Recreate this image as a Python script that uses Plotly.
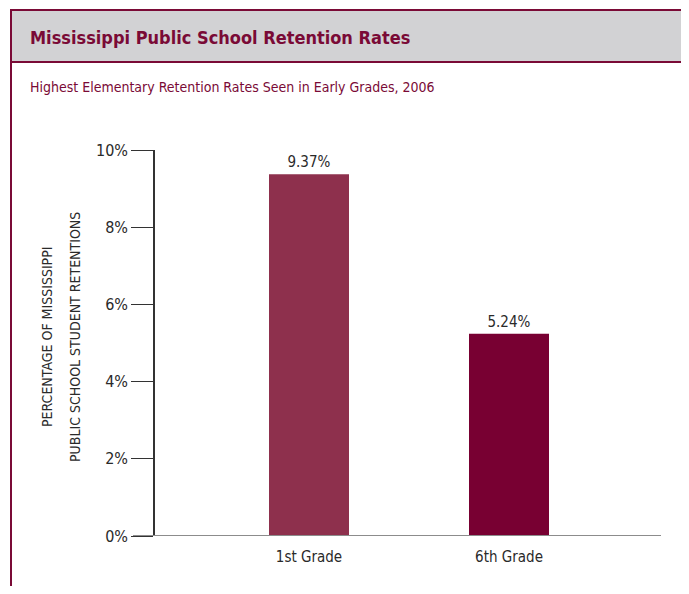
import plotly.graph_objects as go

# data
grades = ["1st Grade", "6th Grade"]
rates = [9.37, 5.24]
bar_colors = ["#8e304d", "#780032"]
tick_vals = [0, 2, 4, 6, 8, 10]
tick_text = ["0%", "2%", "4%", "6%", "8%", "10%"]

maroon = "#7a0a36"
narrow = "DejaVu Sans Condensed, Liberation Sans, sans-serif"

OFF = 8  # page body margin
W, H = 689 - OFF, 594 - 2 * OFF  # keep the page free of scrollbars
# plot area on screen: x 155..661, y 150..536
L, T = 155 - OFF, 150 - OFF
R, B = W - (661 - OFF), H - (536 - OFF)
pw, ph = W - L - R, H - T - B


def px(x):
    return (x - OFF - L) / pw


def py(y):
    return (H - B - (y - OFF)) / ph


fig = go.Figure(go.Bar(
    x=grades, y=rates,
    marker=dict(color=bar_colors, line=dict(width=0)),
    width=0.4,
    text=[f"{v:.2f}%" for v in rates],
    textposition="outside",
    textfont=dict(family=narrow, size=15, color="#2a2a2a"),
    cliponaxis=False,
))

fig.update_layout(
    width=W, height=H,
    margin=dict(l=L, r=R, t=T, b=B),
    paper_bgcolor="white", plot_bgcolor="white",
    showlegend=False,
    font=dict(family=narrow, color="#2a2a2a"),
    xaxis=dict(
        range=[-0.77, 1.76], showline=False, showgrid=False, zeroline=False,
        ticks="outside", ticklen=7, tickcolor="rgba(0,0,0,0)",
        tickfont=dict(size=15, color="#2a2a2a"), fixedrange=True,
    ),
    yaxis=dict(
        range=[0, 10], tickvals=tick_vals, ticktext=tick_text,
        showline=True, linecolor="#333333", linewidth=1.5,
        ticks="outside", ticklen=22, tickwidth=1.2, tickcolor="#333333",
        showgrid=False, zeroline=False,
        tickfont=dict(size=16, color="#2a2a2a"),
    ),
)

shapes = [
    # header band
    dict(type="rect", xref="paper", yref="paper",
         x0=px(11), x1=px(686), y0=py(62), y1=py(10),
         fillcolor="#d2d2d4", line=dict(color=maroon, width=2), layer="below"),
    # outer frame sides
    dict(type="line", xref="paper", yref="paper",
         x0=px(11), x1=px(11), y0=py(10), y1=py(610), line=dict(color=maroon, width=2)),
    dict(type="line", xref="paper", yref="paper",
         x0=px(686), x1=px(686), y0=py(10), y1=py(610), line=dict(color=maroon, width=2)),
    # baseline
    dict(type="line", xref="paper", yref="y",
         x0=px(133), x1=px(661), y0=0, y1=0, line=dict(color="#8c8c8c", width=2)),
]
fig.update_layout(shapes=shapes)

fig.add_annotation(
    text="Mississippi Public School Retention Rates",
    xref="paper", yref="paper", x=px(28), y=py(37),
    xanchor="left", yanchor="middle", showarrow=False,
    font=dict(family=narrow, size=18, color=maroon, weight="bold"),
)
fig.add_annotation(
    text="Highest Elementary Retention Rates Seen in Early Grades, 2006",
    xref="paper", yref="paper", x=px(28), y=py(87),
    xanchor="left", yanchor="middle", showarrow=False,
    font=dict(family=narrow, size=14, color=maroon),
)
for label, xpos in [("PERCENTAGE OF MISSISSIPPI", 47), ("PUBLIC SCHOOL STUDENT RETENTIONS", 75)]:
    fig.add_annotation(
        text=label,
        xref="paper", yref="paper", x=px(xpos), y=py(337),
        xanchor="center", yanchor="middle", textangle=-90, showarrow=False,
        font=dict(family=narrow, size=14, color="#2a2a2a"),
    )

fig.write_html("out.html")
